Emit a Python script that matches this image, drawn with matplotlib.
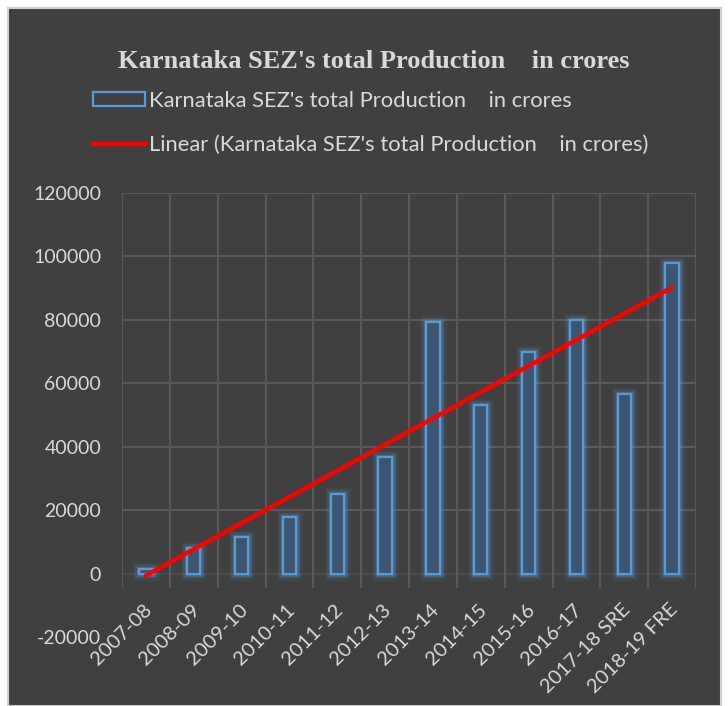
import matplotlib
matplotlib.use('Agg')
import matplotlib.pyplot as plt
import matplotlib.patheffects as pe
from matplotlib.patches import Rectangle, Patch
from matplotlib.lines import Line2D
from matplotlib.transforms import ScaledTranslation
import numpy as np

years = ['2007-08', '2008-09', '2009-10', '2010-11', '2011-12', '2012-13',
         '2013-14', '2014-15', '2015-16', '2016-17', '2017-18 SRE', '2018-19 FRE']
production = [1500, 8200, 11600, 17700, 25200, 36800,
              79400, 53200, 69800, 79800, 56700, 97900]
yticks = [-20000, 0, 20000, 40000, 60000, 80000, 100000, 120000]

series_name = "Karnataka SEZ's total Production    in crores"
bg = '#404040'
txt = '#d9d9d9'
grid_c = '#595959'
blue = '#5b9bd5'

fig = plt.figure(figsize=(7.28, 7.06), dpi=100, facecolor='white')
# dark chart panel
fig.patches.append(Rectangle((8 / 728, 0), 713 / 728, 698 / 706, transform=fig.transFigure,
                             facecolor=bg, edgecolor='#cfcfcf', linewidth=1.5, zorder=-10))

ax = fig.add_axes([122 / 728, 1 - 637 / 706, 574 / 728, 444 / 706], zorder=2)
ax.set_facecolor('none')
for s in ax.spines.values():
    s.set_visible(False)

x = np.arange(len(years))
ax.set_xlim(-0.5, len(years) - 0.5)
ax.set_ylim(-20000, 120000)

# gridlines (excel style, fading below zero)
for yv in yticks[2:]:
    ax.axhline(yv, color=grid_c, lw=1.5, zorder=1)
ax.axhline(0, color='#4a4a4a', lw=1.5, zorder=1)
ax.vlines(np.arange(-0.5, len(years)), -4500, 120000, color=grid_c, lw=1.5, zorder=1)

bars = ax.bar(x, production, width=0.28, facecolor='#3c5672', edgecolor=blue,
              linewidth=1.6, zorder=3)
for b in bars:
    b.set_path_effects([pe.Stroke(linewidth=9, foreground=blue, alpha=0.08),
                        pe.Stroke(linewidth=6, foreground=blue, alpha=0.15),
                        pe.Stroke(linewidth=3.5, foreground=blue, alpha=0.3),
                        pe.Normal()])

# linear trendline
coef = np.polyfit(x, production, 1)
ax.plot(x, np.polyval(coef, x), color='#ff0000', lw=3.2, solid_capstyle='round', zorder=4)

ax.set_yticks(yticks)
ax.set_yticklabels([str(v) for v in yticks])
ax.tick_params(axis='y', length=0, pad=15, labelsize=14, labelcolor=txt)
ax.tick_params(axis='x', length=0, pad=-26, labelsize=14.5, labelcolor=txt)
ax.set_xticks(x)
ax.set_xticklabels(years, rotation=45, ha='right', rotation_mode='anchor')
for lab in ax.get_xticklabels():
    lab.set_transform(lab.get_transform() + ScaledTranslation(-3 / 100, 0, fig.dpi_scale_trans))
for lab in ax.get_xticklabels() + ax.get_yticklabels():
    lab.set_fontfamily('Lato')

fig.text(374 / 728, 1 - 61 / 706, series_name, ha='center', va='center',
         fontsize=19, fontweight='bold', family='Liberation Serif', color=txt)

handles = [Patch(facecolor='none', edgecolor=blue, linewidth=1.6),
           Line2D([], [], color='#ff0000', lw=3.2)]
labels = [series_name, 'Linear (' + series_name + ')']
leg = fig.legend(handles, labels, loc='upper left', bbox_to_anchor=(73 / 728, 1 - 71 / 706),
                 frameon=False, handlelength=2.36, handleheight=0.65, handletextpad=0.2,
                 labelspacing=1.12, prop={'family': 'Lato', 'size': 15.8})
for t in leg.get_texts():
    t.set_color(txt)

fig.savefig('out.png', dpi=100, facecolor=fig.get_facecolor())
